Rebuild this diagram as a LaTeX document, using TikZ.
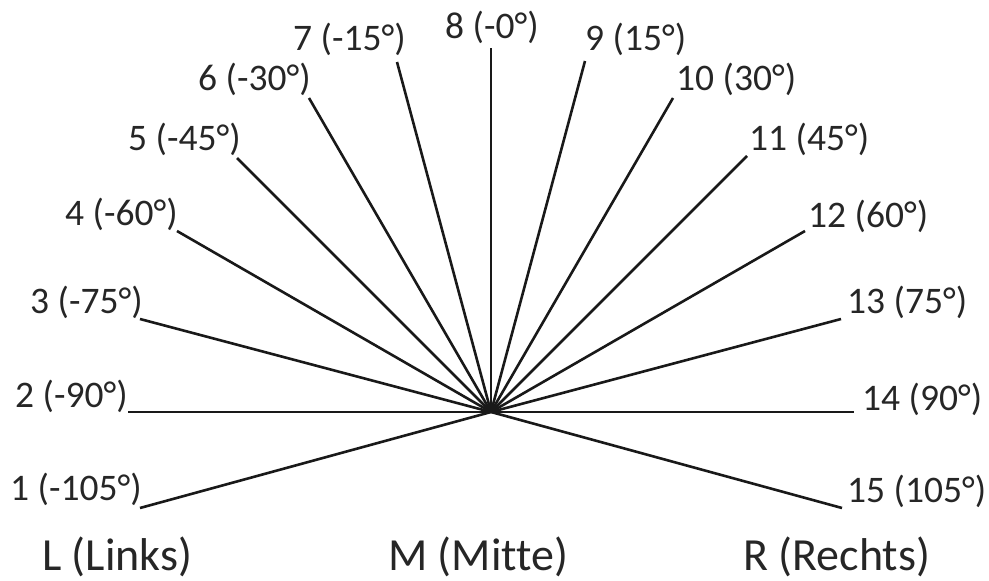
\documentclass[tikz,border=0pt]{standalone}
\usepackage{fontspec}
\setmainfont{Carlito}[Ligatures=NoCommon]
\begin{document}
\begin{tikzpicture}[x=1pt,y=-1pt,
  lbl/.style={anchor=base west,inner sep=0pt,font=\fontsize{37.5}{44}\selectfont,text=black!85},
  big/.style={anchor=base west,inner sep=0pt,font=\fontsize{46}{54}\selectfont,text=black!85},
  ray/.style={line width=2.6pt,black!90}]
\useasboundingbox (0,0) rectangle (989,581);
\coordinate (c) at (491,412);
\coordinate (e1) at (140,508);
\coordinate (e2) at (128,412);
\coordinate (e3) at (140,319);
\coordinate (e4) at (177,231);
\coordinate (e5) at (237,158);
\coordinate (e6) at (309,98);
\coordinate (e7) at (397,62);
\coordinate (e8) at (491,48);
\coordinate (e9) at (585,61);
\coordinate (e10) at (673,98);
\coordinate (e11) at (747,156);
\coordinate (e12) at (805,231);
\coordinate (e13) at (841,319);
\coordinate (e14) at (854,412);
\coordinate (e15) at (842,508);
\node[lbl] (l1) at (10,500) {1 (-105°)};
\node[lbl] (l2) at (15,407) {2 (-90°)};
\node[lbl] (l3) at (30,313) {3 (-75°)};
\node[lbl] (l4) at (65,225) {4 (-60°)};
\node[lbl] (l5) at (128,150) {5 (-45°)};
\node[lbl] (l6) at (198,90) {6 (-30°)};
\node[lbl] (l7) at (293,50) {7 (-15°)};
\node[lbl] (l8) at (445,38) {8 (-0°)};
\node[lbl] (l9) at (585,50) {9 (15°)};
\node[lbl] (l10) at (676,90) {10 (30°)};
\node[lbl] (l11) at (749,150) {11 (45°)};
\node[lbl] (l12) at (808,227) {12 (60°)};
\node[lbl] (l13) at (847,313) {13 (75°)};
\node[lbl] (l14) at (862,410) {14 (90°)};
\node[lbl] (l15) at (847,502) {15 (105°)};
\node[big] (lL) at (42,570) {L (Links)};
\node[big] (lM) at (388,570) {M (Mitte)};
\node[big] (lR) at (743,570) {R (Rechts)};
\foreach \i in {1,...,15}{\draw[ray] (c) -- (e\i);}
\end{tikzpicture}
\end{document}
